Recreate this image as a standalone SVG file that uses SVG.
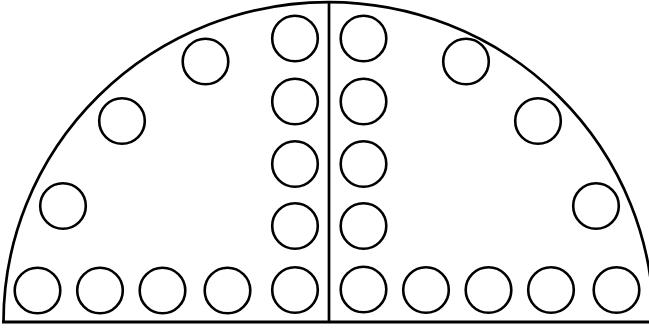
<svg xmlns="http://www.w3.org/2000/svg" width="649" height="328" viewBox="0 0 649 328">
<style>
.l{fill:none;stroke:#000;stroke-width:2.7}
circle{fill:#fff;stroke:#000;stroke-width:2.6}
</style>
<rect width="649" height="328" fill="#fff"/>
<g id="outline">
<path class="l" d="M3.5 322 A325 320 0 0 1 653.5 322"/>
<line class="l" x1="2" y1="322" x2="649" y2="322" style="stroke-width:3"/>
<line class="l" x1="329" y1="2" x2="329" y2="322"/>
</g>
<g id="left">
<circle cx="37.5" cy="290.5" r="22.8"/>
<circle cx="100" cy="290.5" r="22.8"/>
<circle cx="162.5" cy="290.5" r="22.8"/>
<circle cx="227.5" cy="290.5" r="22.8"/>
<circle cx="295" cy="290" r="22.8"/>
<circle cx="295" cy="226" r="22.8"/>
<circle cx="295" cy="164" r="22.8"/>
<circle cx="295" cy="101.5" r="22.8"/>
<circle cx="295" cy="38.5" r="22.8"/>
<circle cx="63" cy="206" r="22.8"/>
<circle cx="122" cy="121" r="22.8"/>
<circle cx="205.5" cy="61.5" r="22.8"/>
</g>
<g id="right">
<circle cx="363.5" cy="289.5" r="22.8"/>
<circle cx="426" cy="290" r="22.8"/>
<circle cx="488.5" cy="290" r="22.8"/>
<circle cx="551" cy="290" r="22.8"/>
<circle cx="616.5" cy="290" r="22.8"/>
<circle cx="363.5" cy="226" r="22.8"/>
<circle cx="363.5" cy="164" r="22.8"/>
<circle cx="363.5" cy="101.5" r="22.8"/>
<circle cx="363.5" cy="38.5" r="22.8"/>
<circle cx="596" cy="206" r="22.8"/>
<circle cx="538" cy="121" r="22.8"/>
<circle cx="466" cy="61.5" r="22.8"/>
</g>
</svg>
